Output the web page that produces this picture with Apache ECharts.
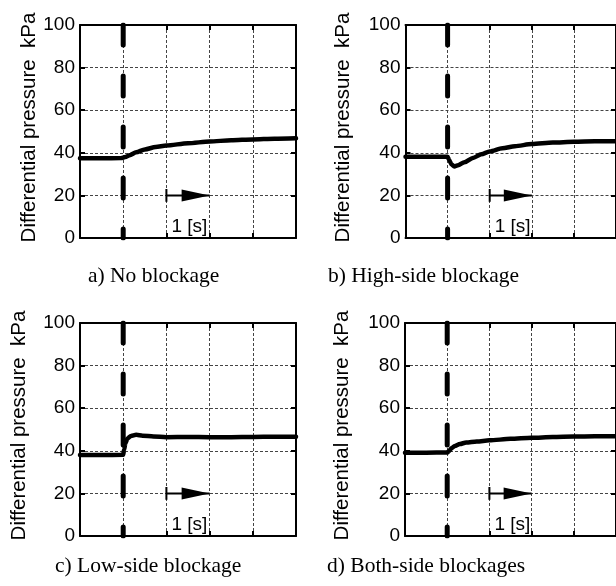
<!DOCTYPE html>
<html>
<head>
<meta charset="utf-8">
<script src="https://cdn.jsdelivr.net/npm/echarts@6/dist/echarts.min.js"></script>
<style>
  html, body { margin: 0; padding: 0; background: #fff; }
  #chart { width: 616px; height: 586px; }
</style>
</head>
<body>
<div id="chart"></div>
<script>
// Differential pressure response after the event at t = 1 s, four blockage cases.
const panelTitles = ['a) No blockage', 'b) High-side blockage', 'c) Low-side blockage', 'd) Both-side blockages'];
const yAxisName = 'Differential pressure  kPa';

const timeA = [0, 0.5, 0.95, 1.05, 1.15, 1.3, 1.5, 1.75, 2.0, 2.5, 3.0, 3.5, 4.0, 4.5, 5.0];
const pressureA = [37.4, 37.4, 37.5, 38.0, 38.9, 40.2, 41.6, 42.7, 43.4, 44.5, 45.3, 45.9, 46.3, 46.6, 46.8];

const timeB = [0, 0.5, 1.0, 1.04, 1.09, 1.16, 1.25, 1.4, 1.6, 1.8, 2.0, 2.3, 2.6, 3.0, 3.5, 4.0, 4.5, 5.0];
const pressureB = [38.2, 38.2, 38.1, 36.5, 34.6, 33.6, 34.2, 35.6, 37.6, 39.3, 40.6, 42.1, 43.1, 44.1, 44.8, 45.2, 45.4, 45.4];

const timeC = [0, 0.5, 1.0, 1.02, 1.05, 1.1, 1.18, 1.3, 1.45, 1.7, 2.0, 2.5, 3.0, 3.5, 4.0, 4.5, 5.0];
const pressureC = [38.0, 38.0, 38.1, 40.5, 43.5, 45.8, 47.0, 47.5, 47.1, 46.7, 46.4, 46.5, 46.4, 46.4, 46.5, 46.6, 46.6];

const timeD = [0, 0.5, 1.0, 1.05, 1.1, 1.18, 1.3, 1.45, 1.7, 2.0, 2.5, 3.0, 3.5, 4.0, 4.5, 5.0];
const pressureD = [39.1, 39.1, 39.2, 40.0, 41.2, 42.3, 43.2, 43.9, 44.4, 44.9, 45.6, 46.1, 46.5, 46.7, 46.8, 46.8];

const timeRange = [0, 5];
const pressureRange = [0, 100];
const pressureStep = 20;
const eventTime = 1;
const scaleFrom = 2, scaleTo = 3, scaleLevel = 20;
const scaleLabel = '1 [s]';

const panels = [
  { t: timeA, p: pressureA },
  { t: timeB, p: pressureB },
  { t: timeC, p: pressureC },
  { t: timeD, p: pressureD }
];

const grids = [
  { left: 80, top: 25, width: 216, height: 213 },
  { left: 405.5, top: 25, width: 216.5, height: 213 },
  { left: 80, top: 323, width: 216, height: 213 },
  { left: 405, top: 323, width: 216.5, height: 213 }
];
const nameGaps = [39, 52, 50, 52];
const titlePos = [
  { left: 88, top: 265 }, { left: 328, top: 265 },
  { left: 55, top: 555 }, { left: 327, top: 555 }
];

const SANS = 'Liberation Sans, Arial, sans-serif';
const SERIF = 'Liberation Serif, Times New Roman, serif';
const black = '#000';

const frameLine = { show: true, onZero: false, lineStyle: { color: black, width: 2 } };
const innerTick = { show: true, inside: true, length: 5, lineStyle: { color: black, width: 2 } };
const gridDots = { show: true, lineStyle: { color: '#444', width: 1, type: [3, 2] } };

const xAxes = [], yAxes = [], series = [];

panels.forEach((pn, i) => {
  const xb = { gridIndex: i, type: 'value', min: timeRange[0], max: timeRange[1], interval: 1,
    axisLine: frameLine, axisTick: innerTick, axisLabel: { show: false }, splitLine: gridDots };
  const xt = { gridIndex: i, type: 'value', position: 'top', min: timeRange[0], max: timeRange[1], interval: 1,
    axisLine: frameLine, axisTick: innerTick, axisLabel: { show: false }, splitLine: { show: false } };
  const yl = { gridIndex: i, type: 'value', min: pressureRange[0], max: pressureRange[1], interval: pressureStep,
    axisLine: frameLine, axisTick: innerTick, splitLine: gridDots,
    axisLabel: { color: black, fontSize: 19, fontFamily: SANS, margin: 5 },
    name: yAxisName, nameLocation: 'middle', nameGap: nameGaps[i],
    nameTextStyle: { color: black, fontSize: 20.5, fontFamily: SANS, padding: [0, 0, 0, 8] } };
  const yr = { gridIndex: i, type: 'value', position: 'right', min: pressureRange[0], max: pressureRange[1], interval: pressureStep,
    axisLine: frameLine, axisTick: innerTick, axisLabel: { show: false }, splitLine: { show: false } };
  xAxes.push(xb, xt);
  yAxes.push(yl, yr);
  const xi = 2 * i, yi = 2 * i;
  const common = { xAxisIndex: xi, yAxisIndex: yi, silent: true, animation: false };

  // event marker
  series.push(Object.assign({ type: 'line', symbol: 'none', z: 3,
    data: [[eventTime, pressureRange[1]], [eventTime, pressureRange[0]]],
    lineStyle: { color: black, width: 5, type: [20, 31], cap: 'round' } }, common));

  // measured pressure
  series.push(Object.assign({ type: 'line', symbol: 'none', z: 4, smooth: 0.25, smoothMonotone: 'x',
    data: pn.t.map((t, k) => [t, pn.p[k]]),
    lineStyle: { color: black, width: 4.5, cap: 'round', join: 'round' } }, common));

  // time scale bar: stem
  series.push(Object.assign({ type: 'line', symbol: 'none', z: 5,
    data: [[scaleFrom, scaleLevel], [scaleTo, scaleLevel]],
    lineStyle: { color: black, width: 2 } }, common));
  // time scale bar: start tick
  series.push(Object.assign({ type: 'line', symbol: 'none', z: 5,
    data: [[scaleFrom, scaleLevel - 3], [scaleFrom, scaleLevel + 3]],
    lineStyle: { color: black, width: 2 } }, common));
  // time scale bar: arrow head
  series.push(Object.assign({ type: 'scatter', z: 6,
    data: [[scaleTo, scaleLevel]],
    symbol: 'path://M0,0L1,0.5L0,1Z', symbolSize: [28, 12], symbolOffset: [-14, 0],
    itemStyle: { color: black, opacity: 1 } }, common));
  // time scale label
  series.push(Object.assign({ type: 'scatter', z: 6, symbolSize: 0,
    data: [[scaleFrom, scaleLevel]],
    itemStyle: { color: black, opacity: 1 },
    label: { show: true, formatter: scaleLabel, position: 'right', distance: 5, offset: [0, 31],
      color: black, fontSize: 19, fontFamily: SANS } }, common));
});

const chart = echarts.init(document.getElementById('chart'), null, { renderer: 'canvas' });
chart.setOption({
  animation: false,
  backgroundColor: '#fff',
  title: panelTitles.map((t, i) => ({
    text: t, left: titlePos[i].left, top: titlePos[i].top, padding: 0,
    textStyle: { color: black, fontSize: 21.5, fontWeight: 'normal', fontFamily: SERIF }
  })),
  grid: grids.map(g => Object.assign({ containLabel: false }, g)),
  xAxis: xAxes,
  yAxis: yAxes,
  series: series
});
</script>
</body>
</html>
